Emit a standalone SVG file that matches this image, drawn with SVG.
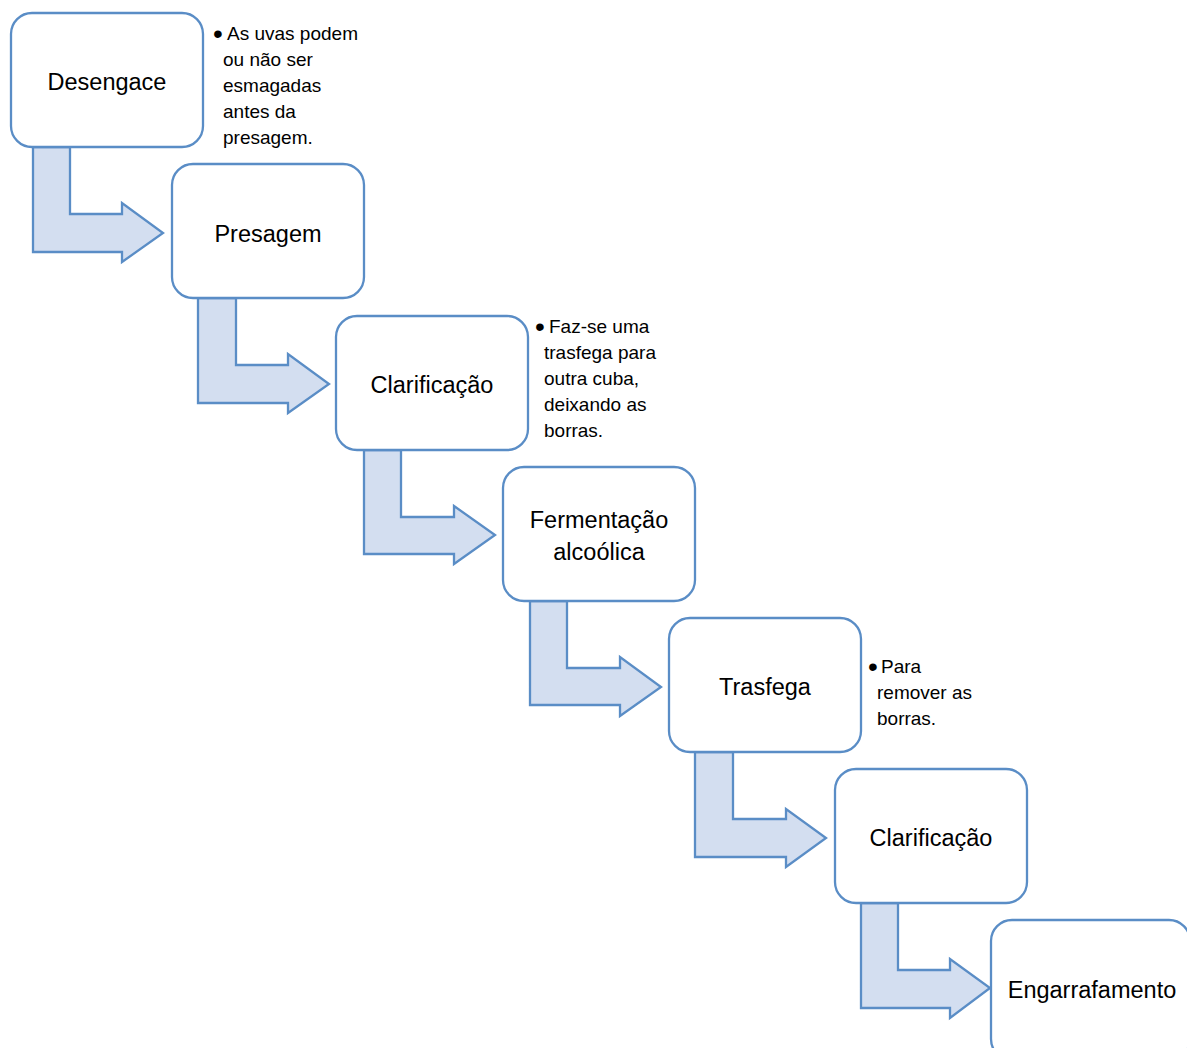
<svg xmlns="http://www.w3.org/2000/svg" width="1187" height="1048" viewBox="0 0 1187 1048">
<style>
.box{fill:#fff;stroke:#5a8dc6;stroke-width:2.3}
.arr{fill:#d3def0;stroke:#5a8dc6;stroke-width:2.3;stroke-linejoin:miter}
.lbl{font-family:"Liberation Sans",Arial,sans-serif;font-size:23.5px;fill:#000;text-anchor:middle}
.note{font-family:"Liberation Sans",Arial,sans-serif;font-size:19px;fill:#000}
.bul{font-size:28px}
</style>
<rect width="1187" height="1048" fill="#fff"/>
<g id="connectors">
<path class="arr" d="M33,147 L70,147 L70,214 L122,214 L122,203 L163,233 L122,262 L122,252 L33,252 Z"/>
<path class="arr" d="M198,298 L236,298 L236,365 L288,365 L288,354 L329,384 L288,413 L288,403 L198,403 Z"/>
<path class="arr" d="M364,450 L401,450 L401,517 L454,517 L454,506 L495,535 L454,564 L454,554 L364,554 Z"/>
<path class="arr" d="M530,601 L567,601 L567,668 L620,668 L620,657 L661,687 L620,716 L620,705 L530,705 Z"/>
<path class="arr" d="M695,752 L733,752 L733,819 L786,819 L786,809 L826,838 L786,867 L786,857 L695,857 Z"/>
<path class="arr" d="M861,903 L898,903 L898,970 L950,970 L950,959 L990,988 L950,1018 L950,1008 L861,1008 Z"/>
</g>
<g id="n1"><rect class="box" x="11" y="13" width="192" height="134" rx="21"/><text class="lbl" x="107" y="90">Desengace</text></g>
<g id="n2"><rect class="box" x="172" y="164" width="192" height="134" rx="21"/><text class="lbl" x="268" y="242">Presagem</text></g>
<g id="n3"><rect class="box" x="336" y="316" width="192" height="134" rx="21"/><text class="lbl" x="432" y="393">Clarificação</text></g>
<g id="n4"><rect class="box" x="503" y="467" width="192" height="134" rx="21"/><text class="lbl" x="599" y="528">Fermentação</text><text class="lbl" x="599" y="560">alcoólica</text></g>
<g id="n5"><rect class="box" x="669" y="618" width="192" height="134" rx="21"/><text class="lbl" x="765" y="695">Trasfega</text></g>
<g id="n6"><rect class="box" x="835" y="769" width="192" height="134" rx="21"/><text class="lbl" x="931" y="846">Clarificação</text></g>
<g id="n7"><rect class="box" x="991" y="920" width="199" height="140" rx="21"/><text class="lbl" x="1092" y="998">Engarrafamento</text></g>
<g id="note1" class="note">
<text class="bul" x="213" y="43">•</text>
<text x="227" y="40">As uvas podem</text>
<text x="223" y="66">ou não ser</text>
<text x="223" y="92">esmagadas</text>
<text x="223" y="118">antes da</text>
<text x="223" y="144">presagem.</text>
</g>
<g id="note2" class="note">
<text class="bul" x="535" y="336">•</text>
<text x="549" y="333">Faz-se uma</text>
<text x="544" y="359">trasfega para</text>
<text x="544" y="385">outra cuba,</text>
<text x="544" y="411">deixando as</text>
<text x="544" y="437">borras.</text>
</g>
<g id="note3" class="note">
<text class="bul" x="868" y="676">•</text>
<text x="881" y="673">Para</text>
<text x="877" y="699">remover as</text>
<text x="877" y="725">borras.</text>
</g>
</svg>
